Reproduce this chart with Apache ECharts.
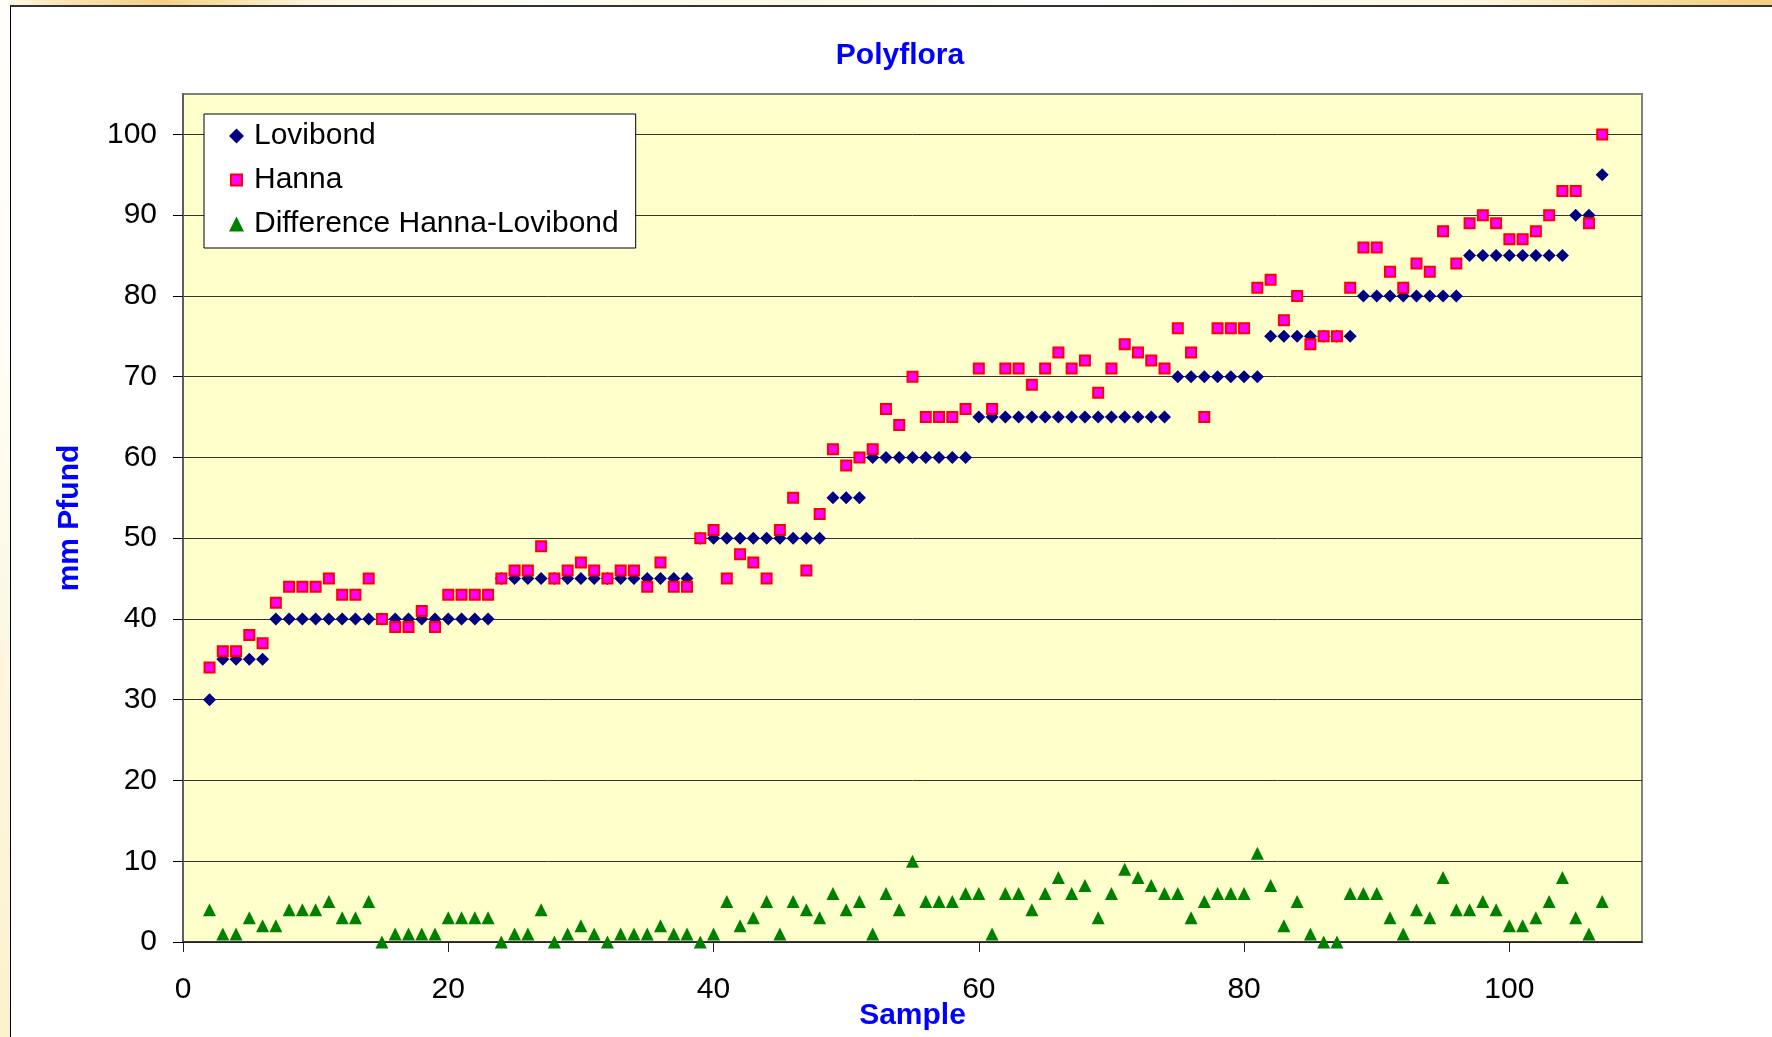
<!DOCTYPE html>
<html>
<head>
<meta charset="utf-8">
<script src="https://cdn.jsdelivr.net/npm/echarts@6/dist/echarts.min.js"></script>
<style>
  html, body { margin: 0; padding: 0; width: 1772px; height: 1037px; overflow: hidden; background: #fffdf6; }
  #topstrip { position: absolute; left: 0; top: 0; width: 1772px; height: 6px;
    background: linear-gradient(to right, #fffdf5 0%, #fbe7b8 3%, #f3cf88 9%, #f8e2a8 13%, #fdf6de 18%, #fffef6 30%, #fdf8e4 45%, #ffffff 60%, #fdf6de 84%, #f7dda0 92%, #f3cd80 100%); }
  #leftstrip { position: absolute; left: 0; top: 0; width: 10px; height: 1037px;
    background: linear-gradient(to bottom, #fffefa 0%, #fffdf4 35%, #fdf6dc 70%, #fcf1cc 100%); }
  #box { position: absolute; left: 10px; top: 5px; width: 1800px; height: 1100px; background: #ffffff;
    border-left: 1px solid #000; border-top: 2px solid #333; }
  #chart { position: absolute; left: 0; top: 0; width: 1772px; height: 1037px; }
</style>
</head>
<body>
<div id="topstrip"></div>
<div id="leftstrip"></div>
<div id="box"></div>
<div id="chart"></div>
<script>
const samples = [2,3,4,5,6,7,8,9,10,11,12,13,14,15,16,17,18,19,20,21,22,23,24,25,26,27,28,29,30,31,32,33,34,35,36,37,38,39,40,41,42,43,44,45,46,47,48,49,50,51,52,53,54,55,56,57,58,59,60,61,62,63,64,65,66,67,68,69,70,71,72,73,74,75,76,77,78,79,80,81,82,83,84,85,86,87,88,89,90,91,92,93,94,95,96,97,98,99,100,101,102,103,104,105,106,107];

const lovibond = [30,
  35,35,35,35,
  40,40,40,40,40,40,40,40,40,40,40,40,40,40,40,40,40,
  45,45,45,45,45,45,45,45,45,45,45,45,45,45,45,
  50,50,50,50,50,50,50,50,50,50,
  55,55,55,
  60,60,60,60,60,60,60,60,
  65,65,65,65,65,65,65,65,65,65,65,65,65,65,65,
  70,70,70,70,70,70,70,
  75,75,75,75,75,75,75,
  80,80,80,80,80,80,80,80,
  85,85,85,85,85,85,85,85,
  90,90,
  95];

const hanna = [34,36,36,38,37,42,44,44,44,45,43,43,45,40,39,39,41,39,43,43,43,43,
  45,46,46,49,45,46,47,46,45,46,46,44,47,44,44,
  50,51,45,48,47,45,51,55,46,53,
  61,59,60,61,66,64,70,65,65,65,66,
  71,66,71,71,69,71,73,71,72,68,71,74,73,72,71,
  76,73,65,76,76,76,81,82,77,80,74,75,75,81,
  86,86,83,81,84,83,88,84,89,90,89,87,87,88,90,93,93,89,100];

const difference = [4,1,1,3,2,2,4,4,4,5,3,3,5,0,1,1,1,1,3,3,3,3,
  0,1,1,4,0,1,2,1,0,1,1,1,2,1,1,
  0,1,5,2,3,5,1,5,4,3,
  6,4,5,1,6,4,10,5,5,5,6,
  6,1,6,6,4,6,8,6,7,3,6,9,8,7,6,
  6,3,5,6,6,6,11,7,2,5,1,0,0,6,
  6,6,3,1,4,3,8,4,4,5,4,2,2,3,5,8,3,1,5];

const xTicks = [0,20,40,60,80,100];
const yTicks = [0,10,20,30,40,50,60,70,80,90,100];

const seriesNames = ['Lovibond', 'Hanna', 'Difference Hanna-Lovibond'];
const legendIcons = ['diamond', 'path://M0,0M15,15M2,2L13,2L13,13L2,13Z', 'triangle'];

function pairs(vals) { return samples.map((s, i) => [s, vals[i]]); }

const FONT = '"Liberation Sans", Arial, sans-serif';
const chart = echarts.init(document.getElementById('chart'), null, { renderer: 'canvas' });

chart.setOption({
  animation: false,
  title: {
    text: 'Polyflora',
    left: 895, top: 36, textAlign: 'center',
    textStyle: { color: '#0000FF', fontSize: 30, fontWeight: 'bold', fontFamily: FONT }
  },
  legend: {
    orient: 'vertical',
    left: 204, top: 114,
    padding: [7, 17, 9, 24],
    itemGap: 14,
    itemWidth: 15, itemHeight: 15,
    symbolKeepAspect: true,
    backgroundColor: '#ffffff',
    borderColor: '#000000', borderWidth: 1,
    textStyle: { color: '#000', fontSize: 30, fontFamily: FONT, padding: [0, 0, 0, 5] },
    data: seriesNames.map((n, i) => ({ name: n, icon: legendIcons[i] }))
  },
  grid: {
    left: 183, top: 94, width: 1459, height: 848,
    outerBoundsMode: 'none', containLabel: false,
    show: true, backgroundColor: '#FFFFCC', borderColor: '#808080', borderWidth: 2
  },
  xAxis: {
    type: 'value', min: 0, max: 110, interval: 10,
    name: 'Sample', nameLocation: 'middle', nameGap: 59, nameMoveOverlap: false,
    nameTextStyle: { color: '#0000FF', fontSize: 30, fontWeight: 'bold', fontFamily: FONT },
    axisLine: { lineStyle: { color: '#222', width: 1.5 } },
    axisTick: { show: true, length: 10, lineStyle: { color: '#222', width: 1 }, customValues: xTicks },
    axisLabel: { margin: 33, color: '#000', fontSize: 30, fontFamily: FONT, customValues: xTicks },
    splitLine: { show: false }
  },
  yAxis: {
    type: 'value', min: 0, max: 105, interval: 10,
    name: 'mm Pfund', nameLocation: 'middle', nameGap: 98, nameMoveOverlap: false,
    nameTextStyle: { color: '#0000FF', fontSize: 30, fontWeight: 'bold', fontFamily: FONT },
    axisLine: { show: true, lineStyle: { color: '#555', width: 1.5 } },
    axisTick: { show: true, length: 10, lineStyle: { color: '#000', width: 1 }, customValues: yTicks },
    axisLabel: { margin: 26, color: '#000', fontSize: 30, fontFamily: FONT, customValues: yTicks },
    splitLine: { show: true, lineStyle: { color: '#333', width: 1 } }
  },
  series: [
    {
      name: seriesNames[0], type: 'scatter', clip: false,
      symbol: 'diamond', symbolSize: 13,
      itemStyle: { color: '#000080', opacity: 1 },
      data: pairs(lovibond)
    },
    {
      name: seriesNames[1], type: 'scatter', clip: false,
      symbol: 'rect', symbolSize: 10,
      itemStyle: { color: '#FF00FF', borderColor: '#FF0000', borderWidth: 2, opacity: 1 },
      data: pairs(hanna)
    },
    {
      name: seriesNames[2], type: 'scatter', clip: false,
      symbol: 'triangle', symbolSize: 13,
      itemStyle: { color: '#008000', opacity: 1 },
      data: pairs(difference)
    }
  ]
});
</script>
</body>
</html>
